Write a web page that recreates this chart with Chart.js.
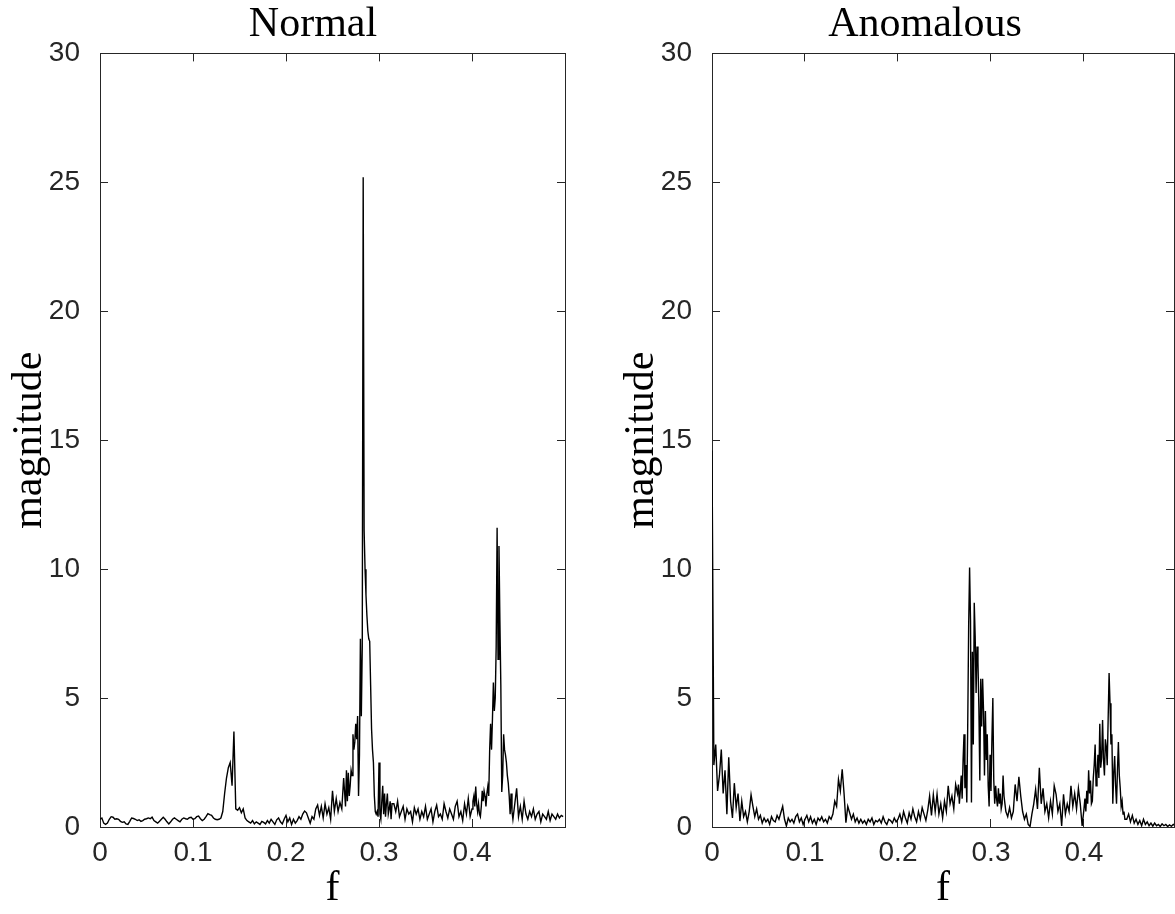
<!DOCTYPE html>
<html>
<head>
<meta charset="utf-8">
<script src="https://cdn.jsdelivr.net/npm/chart.js@4/dist/chart.umd.min.js"></script>
<style>
html,body{margin:0;padding:0;background:#fff;overflow:hidden;width:1175px;height:914px;position:relative;}
.panel{position:absolute;top:0;width:626px;height:914px;}
canvas{display:block;}
</style>
</head>
<body>
<div class="panel" style="left:0px"><canvas id="c1" width="626" height="914"></canvas></div>
<div class="panel" style="left:612px"><canvas id="c2" width="626" height="914"></canvas></div>
<script>
// sampling grid (frequency, cycles/sample); finer around the peaks
const freq = [
0,0.002,0.004,0.006,0.008,0.01,0.012,0.014,0.016,0.018,
0.02,0.022,0.024,0.026,0.028,0.03,0.032,0.034,0.036,0.038,
0.04,0.042,0.044,0.046,0.048,0.05,0.052,0.054,0.056,0.058,
0.06,0.062,0.064,0.066,0.068,0.07,0.072,0.074,0.076,0.078,
0.08,0.082,0.084,0.086,0.088,0.09,0.092,0.094,0.096,0.098,
0.1,0.102,0.104,0.106,0.108,0.11,0.112,0.114,0.116,0.118,
0.12,0.122,0.124,0.126,0.128,0.13,0.132,0.134,0.136,0.138,
0.14,0.142,0.144,0.146,0.148,0.15,0.152,0.154,0.156,0.158,
0.16,0.162,0.164,0.166,0.168,0.17,0.172,0.174,0.176,0.178,
0.18,0.182,0.184,0.186,0.188,0.19,0.192,0.194,0.196,0.198,
0.2,0.202,0.204,0.206,0.208,0.21,0.212,0.214,0.216,0.218,
0.22,0.222,0.224,0.226,0.228,0.23,0.232,0.234,0.236,0.238,
0.24,0.242,0.244,0.246,0.248,0.25,0.252,0.254,0.256,0.258,
0.26,0.262,
0.264,0.265,0.266,0.267,0.268,0.269,0.27,0.271,0.272,0.273,
0.274,0.275,0.276,0.277,0.278,0.279,0.28,0.281,0.282,0.283,
0.284,0.285,0.286,0.287,0.288,0.289,0.29,0.291,0.292,0.293,
0.294,0.295,0.296,0.297,0.298,0.299,0.3,0.301,0.302,0.303,
0.304,0.305,0.306,0.307,0.308,0.309,0.31,0.311,0.312,0.313,
0.314,
0.316,0.318,
0.32,0.322,0.324,0.326,0.328,0.33,0.332,0.334,0.336,0.338,
0.34,0.342,0.344,0.346,0.348,0.35,0.352,0.354,0.356,0.358,
0.36,0.362,0.364,0.366,0.368,0.37,0.372,0.374,0.376,0.378,
0.38,0.382,0.384,0.386,0.388,0.39,0.392,0.394,0.396,0.398,
0.4,0.401,0.402,0.403,0.404,0.405,0.406,0.407,0.408,0.409,
0.41,0.411,0.412,0.413,0.414,0.415,0.416,0.417,0.418,0.419,
0.42,0.421,0.422,0.423,0.424,0.425,0.426,0.427,0.428,0.429,
0.43,0.431,0.432,0.433,0.434,0.435,0.436,0.437,0.438,0.439,
0.44,0.441,0.442,0.443,0.444,
0.446,0.448,
0.45,0.452,0.454,0.456,0.458,0.46,0.462,0.464,0.466,0.468,
0.47,0.472,0.474,0.476,0.478,0.48,0.482,0.484,0.486,0.488,
0.49,0.492,0.494,0.496,0.498
];

// magnitude spectrum, normal signal
const normalMag = [
0.3,0.35,0.15,0.1,0.15,0.3,0.4,0.38,0.3,0.32,
0.3,0.22,0.18,0.2,0.12,0.1,0.22,0.35,0.33,0.3,
0.25,0.28,0.22,0.25,0.3,0.32,0.35,0.32,0.38,0.25,
0.2,0.15,0.22,0.3,0.38,0.3,0.2,0.12,0.2,0.3,
0.35,0.3,0.25,0.2,0.3,0.35,0.32,0.3,0.36,0.38,
0.3,0.32,0.4,0.42,0.32,0.25,0.3,0.4,0.52,0.48,
0.45,0.35,0.3,0.28,0.3,0.35,0.6,1.3,1.9,2.3,
2.5,1.6,3.7,0.7,0.65,0.75,0.55,0.7,0.35,0.25,
0.2,0.15,0.25,0.12,0.2,0.15,0.1,0.22,0.18,0.12,
0.25,0.15,0.3,0.2,0.1,0.28,0.35,0.2,0.12,0.3,
0.45,0.2,0.35,0.1,0.3,0.15,0.25,0.4,0.3,0.5,
0.62,0.55,0.35,0.15,0.4,0.3,0.7,0.85,0.45,0.8,
0.35,0.9,0.5,0.75,0.3,1.4,0.6,1.1,0.6,0.95,
0.7,1.9,
0.8,2.2,1.0,2.1,1.2,1.6,2.2,2.0,3.6,3.0,
3.3,4.0,3.4,4.3,1.2,2.8,7.3,4.3,7.0,25.2,
11.5,10.0,9.0,8.2,7.6,7.3,7.2,5.5,3.8,3.0,
2.5,1.2,0.6,0.5,0.6,0.4,2.5,0.5,0.3,1.0,
1.6,0.5,1.3,0.4,0.9,1.3,0.5,0.7,1.0,0.3,
0.9,
0.9,0.6,
1.0,0.4,0.6,0.8,0.3,0.7,0.5,0.6,0.2,0.75,
0.5,0.7,0.3,0.6,0.4,0.8,0.3,0.5,0.7,0.2,
0.6,0.85,0.4,0.5,0.3,0.9,0.6,0.35,0.7,0.5,
0.3,0.8,1.0,0.4,0.6,0.25,0.9,0.5,1.1,0.4,
0.7,1.0,1.2,0.8,1.57,0.9,0.6,0.9,0.5,0.4,
0.8,1.4,1.0,1.4,1.2,0.8,1.3,1.57,1.2,3.0,
4.0,3.0,4.2,5.6,4.5,5.0,7.0,11.6,6.5,10.9,
8.0,5.5,1.36,2.0,3.6,3.0,2.8,2.5,2.0,1.7,
1.2,0.5,1.3,0.6,0.3,
0.9,1.5,
0.4,0.8,0.3,1.0,0.5,0.3,0.6,0.4,0.7,0.3,
0.5,0.6,0.2,0.5,0.4,0.3,0.6,0.25,0.5,0.4,
0.3,0.5,0.35,0.45,0.4
];

// magnitude spectrum, anomalous signal
const anomalousMag = [
14.6,2.4,3.2,1.4,2.0,3.0,1.3,2.2,0.5,2.7,
1.0,0.35,1.7,0.75,1.3,0.23,1.0,0.4,0.6,0.2,
0.6,1.25,0.8,0.4,0.7,0.3,0.45,0.15,0.35,0.2,
0.3,0.1,0.4,0.25,0.2,0.45,0.3,0.55,0.8,0.3,
0.04,0.35,0.2,0.3,0.15,0.4,0.5,0.2,0.35,0.1,
0.3,0.45,0.2,0.4,0.15,0.3,0.1,0.35,0.25,0.4,
0.2,0.3,0.15,0.4,0.3,0.5,1.0,0.8,1.85,1.4,
2.24,1.3,0.17,0.8,0.55,0.3,0.5,0.2,0.35,0.15,
0.3,0.15,0.25,0.1,0.3,0.2,0.35,0.1,0.25,0.2,
0.3,0.15,0.4,0.2,0.1,0.3,0.25,0.15,0.35,0.2,
0.3,0.5,0.2,0.6,0.35,0.15,0.55,0.3,0.7,0.4,
0.2,0.6,0.3,0.75,0.5,0.25,0.65,1.2,0.45,1.25,
0.6,1.27,0.5,0.9,0.35,1.0,0.6,1.6,0.9,1.2,
0.7,1.65,
1.3,1.65,0.9,1.4,2.0,1.1,2.6,3.6,1.5,2.4,
0.95,4.0,7.8,10.06,8.0,0.95,6.8,3.2,8.7,7.4,
5.2,7.0,6.4,4.6,1.8,5.75,3.9,5.75,4.5,2.0,
4.5,2.6,3.6,1.6,0.8,2.8,1.4,3.4,5.0,1.8,
0.9,1.6,1.1,0.8,1.5,0.9,1.3,0.7,0.9,2.0,
1.2,
0.6,0.4,
0.75,0.35,0.6,1.65,1.0,1.95,1.2,0.6,0.3,0.5,
0.1,0.02,0.5,0.9,1.46,0.7,2.3,0.9,1.5,0.6,
0.9,0.35,1.0,0.5,1.6,1.27,0.6,0.9,0.04,1.27,
0.5,0.9,0.6,1.6,0.8,1.3,0.7,1.5,0.9,0.04,
0.7,1.1,0.6,1.4,0.9,2.2,1.3,1.8,0.9,1.0,
1.9,2.4,3.2,1.6,2.0,2.8,1.9,4.0,2.3,2.7,
4.15,2.6,2.0,3.4,3.1,2.4,4.2,5.97,4.8,3.2,
3.6,0.9,2.1,2.75,1.6,0.9,2.2,3.3,2.0,1.5,
0.8,1.0,0.5,0.6,0.3,
0.3,0.5,
0.2,0.45,0.15,0.3,0.1,0.25,0.05,0.3,0.1,0.2,
0.05,0.15,0.03,0.15,0.05,0.1,0.02,0.12,0.05,0.1,
0.02,0.08,0.03,0.1,0.05
];

const xTicks = [0, 0.1, 0.2, 0.3, 0.4];
const yTicks = [0, 5, 10, 15, 20, 25, 30];
const panelTitles = ['Normal', 'Anomalous'];
const xLabel = 'f';
const yLabel = 'magnitude';

if (normalMag.length !== freq.length || anomalousMag.length !== freq.length) {
  console.error('length mismatch', freq.length, normalMag.length, anomalousMag.length);
}

const AXIS_COLOR = '#262626';
const tickFont = {family: "'Liberation Sans', Arial, sans-serif", size: 28, weight: 'normal'};
const serifFont = {family: "'Liberation Serif', 'Times New Roman', serif", size: 42, weight: 'normal'};

function tickGrid() {
  return {drawOnChartArea: false, drawTicks: true, tickLength: -8, color: AXIS_COLOR, lineWidth: 1};
}
function tickBorder() {
  return {display: true, color: AXIS_COLOR, width: 1};
}

function makeChart(id, title, values, xMax, rightSpace) {
  const pts = freq.map((f, i) => ({x: f, y: values[i]}));
  return new Chart(document.getElementById(id), {
    type: 'scatter',
    data: {
      datasets: [{
        data: pts,
        showLine: true,
        borderColor: '#000000',
        borderWidth: 1.4,
        pointRadius: 0,
        pointHoverRadius: 0,
        fill: false,
        tension: 0
      }]
    },
    options: {
      responsive: false,
      animation: false,
      devicePixelRatio: 1,
      events: [],
      layout: {padding: 0},
      plugins: {
        legend: {display: false},
        tooltip: {enabled: false},
        title: {
          display: true, text: title, color: '#000000', font: serifFont,
          padding: {top: 0, bottom: 3}
        }
      },
      scales: {
        x: {
          type: 'linear', position: 'bottom', display: true, min: 0, max: xMax,
          afterBuildTicks: s => { s.ticks = xTicks.map(v => ({value: v})); },
          ticks: {
            color: AXIS_COLOR, font: tickFont, padding: 17, maxRotation: 0, autoSkip: false,
            callback: v => (v === 0 ? '0' : v.toFixed(1))
          },
          grid: tickGrid(), border: tickBorder(),
          title: {display: true, text: xLabel, color: '#000000', font: serifFont, padding: {top: 0, bottom: 0}},
          afterFit: s => { s.height = 87; }
        },
        x2: {
          type: 'linear', position: 'top', display: true, min: 0, max: xMax,
          afterBuildTicks: s => { s.ticks = xTicks.map(v => ({value: v})); },
          ticks: {display: false},
          grid: tickGrid(), border: tickBorder(),
          afterFit: s => { s.height = 0; }
        },
        y: {
          type: 'linear', position: 'left', display: true, min: 0, max: 30,
          afterBuildTicks: s => { s.ticks = yTicks.map(v => ({value: v})); },
          ticks: {color: AXIS_COLOR, font: tickFont, padding: 28},
          grid: tickGrid(), border: tickBorder(),
          title: {display: true, text: yLabel, color: '#000000', font: serifFont, padding: {top: 5, bottom: 0}},
          afterFit: s => { s.width = 100; }
        },
        y2: {
          type: 'linear', position: 'right', display: true, min: 0, max: 30,
          afterBuildTicks: s => { s.ticks = yTicks.map(v => ({value: v})); },
          ticks: {display: false},
          grid: tickGrid(), border: tickBorder(),
          afterFit: s => { s.width = rightSpace; }
        }
      }
    }
  });
}

makeChart('c1', panelTitles[0], normalMag, 0.5, 61);
makeChart('c2', panelTitles[1], anomalousMag, 0.4968, 64);
</script>
</body>
</html>
